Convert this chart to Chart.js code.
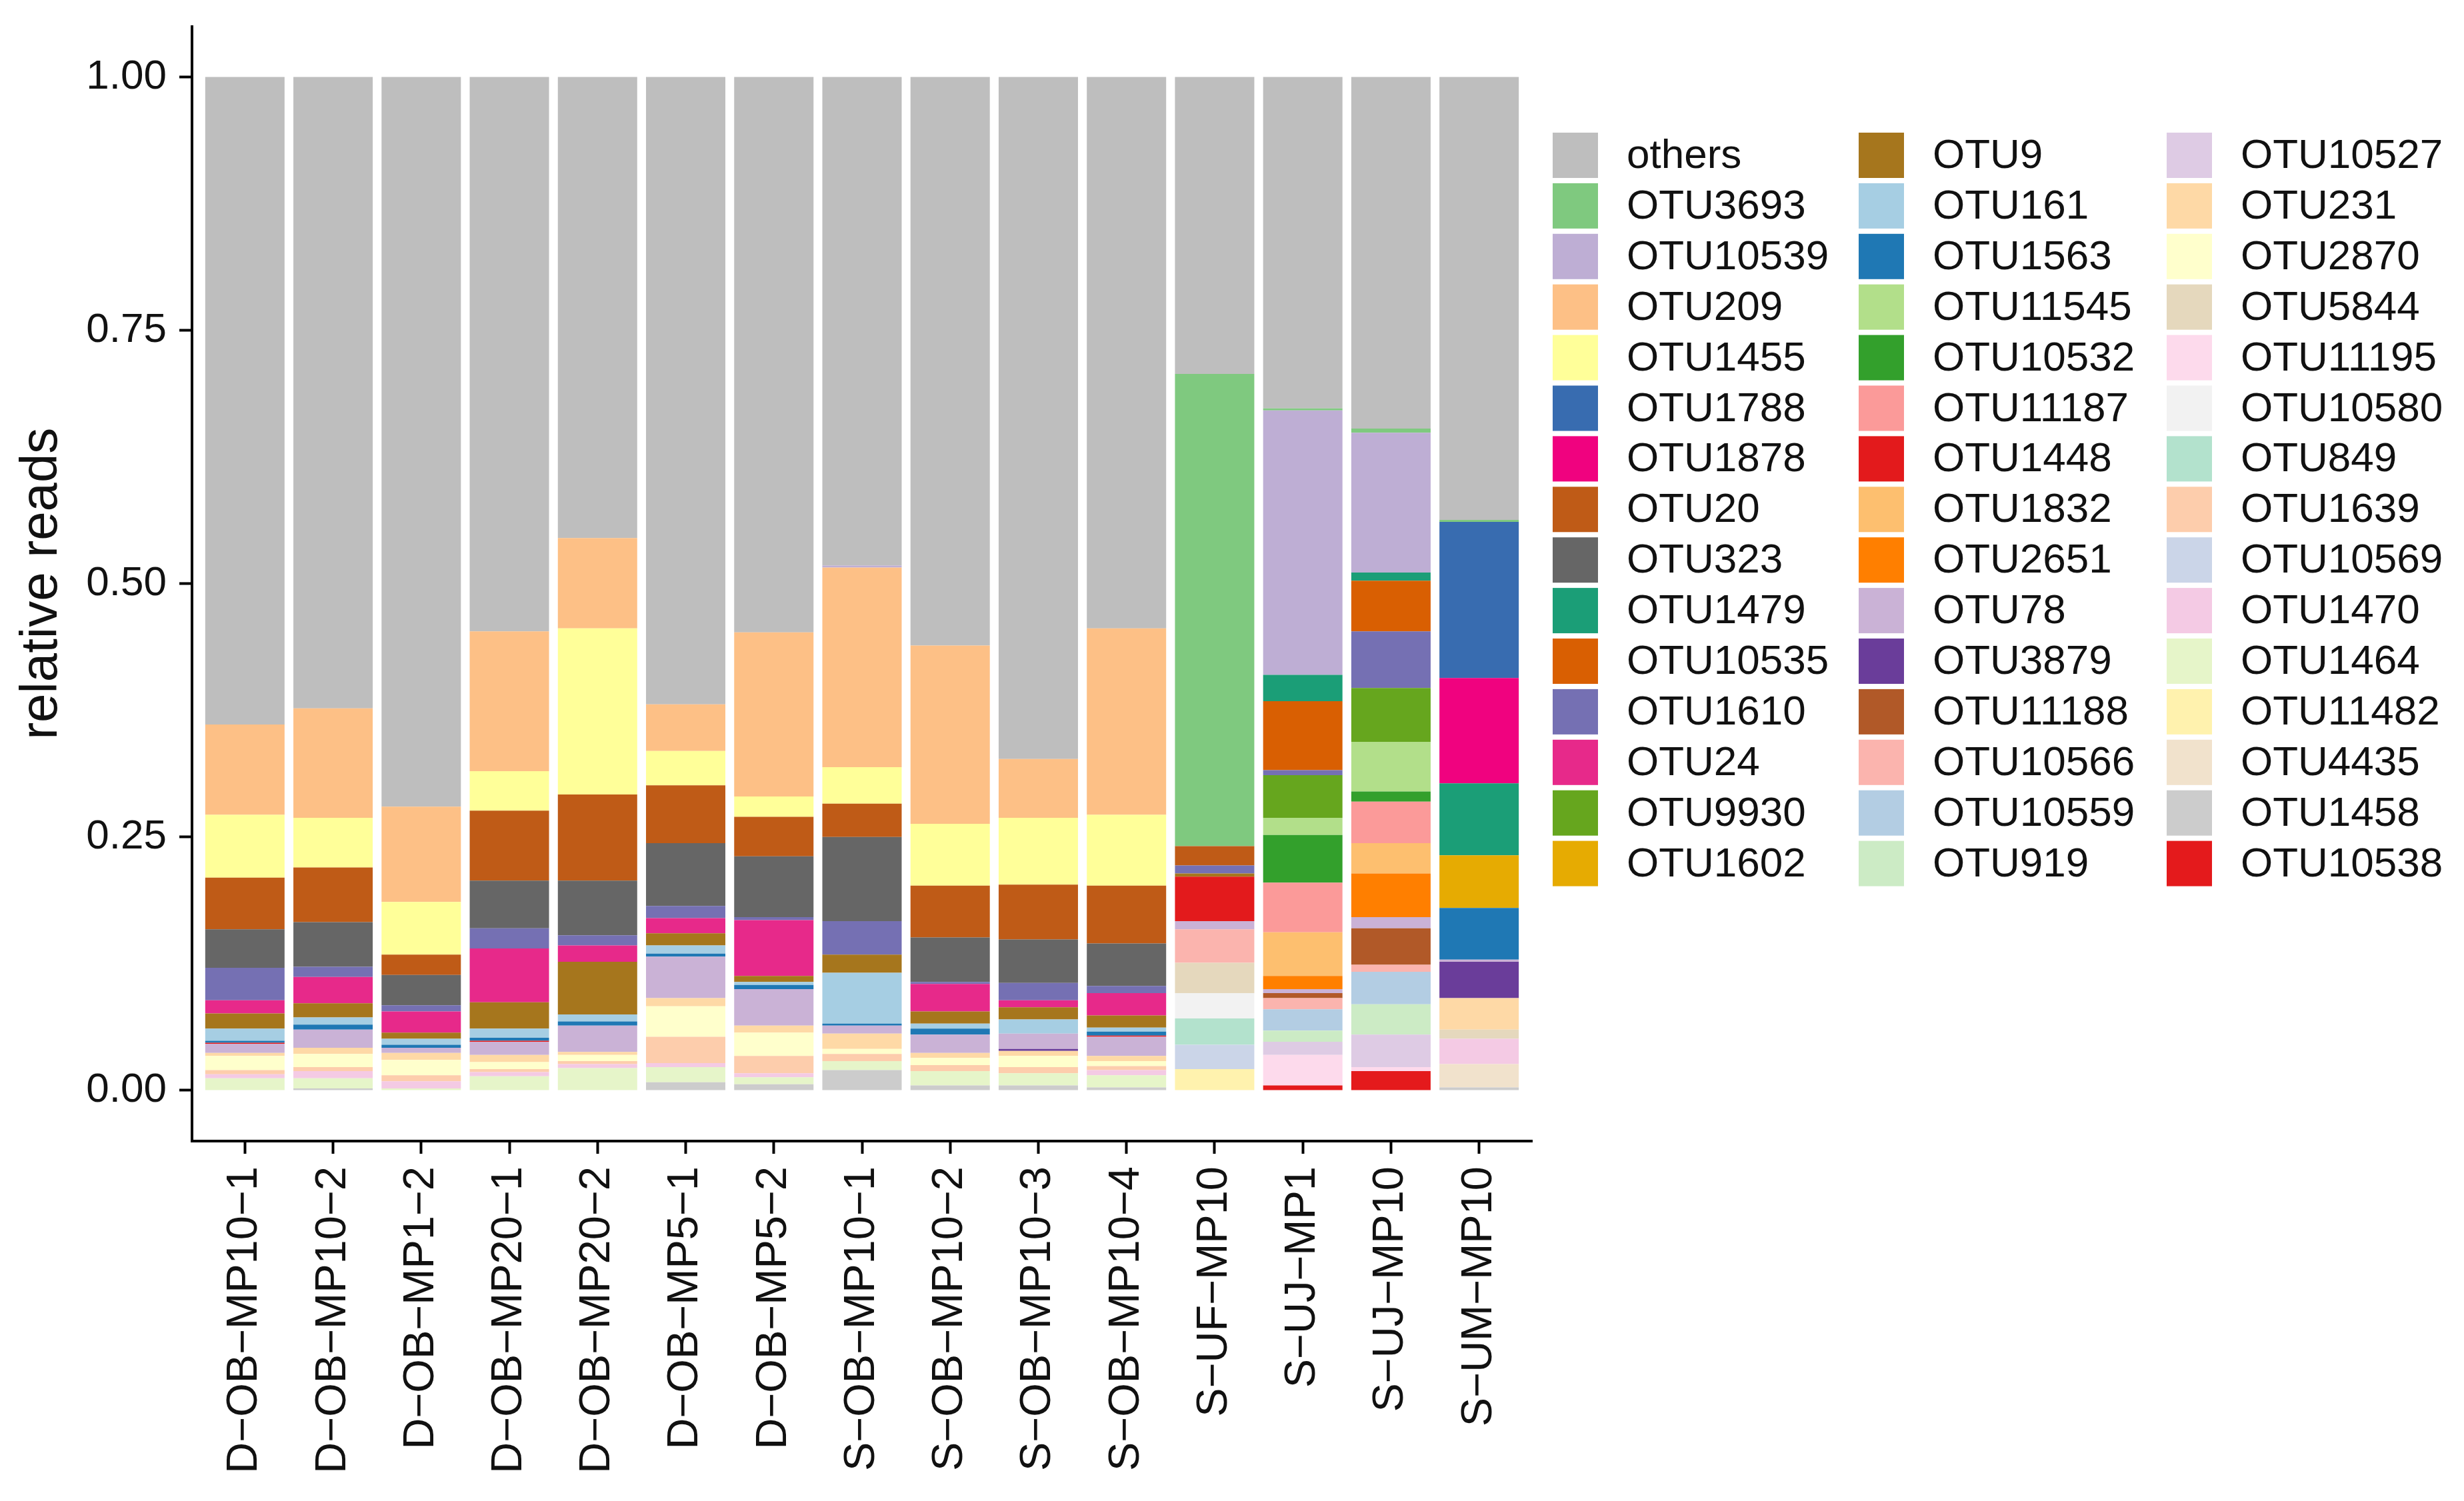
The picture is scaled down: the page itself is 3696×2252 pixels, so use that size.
<!DOCTYPE html>
<html lang="en">
<head>
    <meta charset="UTF-8">
    <title>relative reads</title>
    <script src="https://cdn.jsdelivr.net/npm/chart.js"></script>
    <style>
        html, body { margin: 0; padding: 0; background: #fff; }
        .wrap { width: 3696px; height: 2252px; position: relative; }
    </style>
</head>
<body>
    <div class="wrap">
        <canvas id="otuChart"></canvas>
    </div>

    <script>
        const samples = ['D−OB−MP10−1', 'D−OB−MP10−2', 'D−OB−MP1−2', 'D−OB−MP20−1', 'D−OB−MP20−2',
            'D−OB−MP5−1', 'D−OB−MP5−2', 'S−OB−MP10−1', 'S−OB−MP10−2', 'S−OB−MP10−3',
            'S−OB−MP10−4', 'S−UF−MP10', 'S−UJ−MP1', 'S−UJ−MP10', 'S−UM−MP10'];

        const yTicks = [0, 0.25, 0.5, 0.75, 1];

        // relative reads per OTU, one value per sample (same order as samples)
        const others   = [.639, .623, .720, .547, .455, .619, .548, .482, .561, .673, .544, .293, .327, .347, .437];
        const otu3693  = [0, 0, 0, 0, 0, 0, 0, 0, 0, 0, 0, .466, .002, .004, .002];
        const otu10539 = [0, 0, 0, 0, 0, 0, 0, .002, 0, 0, 0, 0, .261, .138, 0];
        const otu209   = [.089, .108, .094, .138, .089, .046, .162, .197, .176, .058, .184, 0, 0, 0, 0];
        const otu1455  = [.062, .049, .052, .039, .164, .034, .020, .036, .061, .066, .070, 0, 0, 0, 0];
        const otu1788  = [0, 0, 0, 0, 0, 0, 0, 0, 0, 0, 0, 0, 0, 0, .154];
        const otu1878  = [0, 0, 0, 0, 0, 0, 0, 0, 0, 0, 0, 0, 0, 0, .104];
        const otu20    = [.051, .054, .020, .069, .085, .057, .039, .033, .051, .054, .057, .019, 0, 0, 0];
        const otu323   = [.038, .044, .030, .047, .054, .062, .060, .083, .044, .043, .042, 0, 0, 0, 0];
        const otu1479  = [0, 0, 0, 0, 0, 0, 0, 0, 0, 0, 0, 0, .026, .008, .071];
        const otu10535 = [0, 0, 0, 0, 0, 0, 0, 0, 0, 0, 0, 0, .068, .050, 0];
        const otu1610  = [.032, .010, .006, .020, .010, .012, .003, .033, .002, .017, .007, .008, .005, .056, 0];
        const otu24    = [.013, .026, .021, .053, .016, .015, .055, 0, .027, .007, .022, 0, 0, 0, 0];
        const otu9930  = [0, 0, 0, 0, 0, 0, 0, 0, 0, 0, 0, 0, .042, .053, 0];
        const otu1602  = [0, 0, 0, 0, 0, 0, 0, 0, 0, 0, 0, 0, 0, 0, .052];
        const otu9     = [.015, .014, .006, .026, .052, .012, .006, .018, .012, .012, .012, .003, 0, 0, 0];
        const otu161   = [.012, .007, .006, .009, .007, .008, .003, .050, .005, .014, .004, 0, 0, 0, 0];
        const otu1563  = [.002, .005, .003, .003, .004, .003, .004, .002, .006, 0, .004, 0, 0, 0, .051];
        const otu11545 = [0, 0, 0, 0, 0, 0, 0, 0, 0, 0, 0, 0, .017, .049, 0];
        const otu10532 = [0, 0, 0, 0, 0, 0, 0, 0, 0, 0, 0, 0, .047, .010, 0];
        const otu11187 = [0, 0, 0, 0, 0, 0, 0, 0, 0, 0, 0, 0, .049, .041, 0];
        const otu1448  = [.001, 0, 0, .001, 0, 0, 0, 0, 0, 0, .001, .044, 0, 0, 0];
        const otu1832  = [0, 0, 0, 0, 0, 0, 0, 0, 0, 0, 0, 0, .043, .030, 0];
        const otu2651  = [0, 0, 0, 0, 0, 0, 0, 0, 0, 0, 0, 0, .013, .043, 0];
        const otu78    = [.009, .018, .005, .013, .026, .041, .036, .008, .018, .015, .019, .008, .004, .011, .002];
        const otu3879  = [0, 0, 0, 0, 0, 0, 0, 0, 0, .002, 0, 0, 0, 0, .036];
        const otu11188 = [0, 0, 0, 0, 0, 0, 0, 0, 0, 0, 0, 0, .005, .036, 0];
        const otu10566 = [0, 0, 0, 0, 0, 0, 0, 0, 0, 0, 0, .033, .011, .007, 0];
        const otu10559 = [0, 0, 0, 0, 0, 0, 0, 0, 0, 0, 0, 0, .021, .032, 0];
        const otu919   = [0, 0, 0, 0, 0, 0, 0, 0, 0, 0, 0, 0, .011, .030, 0];
        const otu10527 = [0, 0, 0, 0, 0, 0, 0, 0, 0, 0, 0, 0, .013, .032, 0];
        const otu231   = [.003, .006, .007, .007, .003, .008, .007, .015, .005, .005, .005, 0, 0, 0, .031];
        const otu2870  = [.014, .013, .015, .007, .006, .030, .023, .005, .007, .011, .005, 0, 0, 0, 0];
        const otu5844  = [0, 0, 0, 0, 0, 0, 0, 0, 0, 0, 0, .030, 0, 0, .009];
        const otu11195 = [0, 0, 0, 0, 0, 0, 0, 0, 0, 0, 0, 0, .030, .004, 0];
        const otu10580 = [0, 0, 0, 0, 0, 0, 0, 0, 0, 0, 0, .025, 0, 0, 0];
        const otu849   = [0, 0, 0, 0, 0, 0, 0, 0, 0, 0, 0, .026, 0, 0, 0];
        const otu1639  = [.004, .004, .006, .003, .003, .026, .017, .007, .006, .006, .004, 0, 0, 0, 0];
        const otu10569 = [0, 0, 0, 0, 0, 0, 0, 0, 0, 0, 0, .024, 0, 0, 0];
        const otu1470  = [.004, .007, .007, .004, .004, .004, .004, 0, 0, 0, .005, 0, 0, 0, .025];
        const otu1464  = [.012, .010, .002, .014, .022, .015, .007, .009, .014, .012, .012, 0, 0, 0, 0];
        const otu11482 = [0, 0, 0, 0, 0, 0, 0, 0, 0, 0, 0, .021, 0, 0, 0];
        const otu4435  = [0, 0, 0, 0, 0, 0, 0, 0, 0, 0, 0, 0, 0, 0, .023];
        const otu1458  = [0, .002, 0, 0, 0, .008, .006, .020, .005, .005, .003, 0, 0, 0, .003];
        const otu10538 = [0, 0, 0, 0, 0, 0, 0, 0, 0, 0, 0, 0, .005, .019, 0];

        // legend order (top of the stack first)
        const seriesNames = ['others', 'OTU3693', 'OTU10539', 'OTU209', 'OTU1455', 'OTU1788', 'OTU1878', 'OTU20',
            'OTU323', 'OTU1479', 'OTU10535', 'OTU1610', 'OTU24', 'OTU9930', 'OTU1602',
            'OTU9', 'OTU161', 'OTU1563', 'OTU11545', 'OTU10532', 'OTU11187', 'OTU1448', 'OTU1832',
            'OTU2651', 'OTU78', 'OTU3879', 'OTU11188', 'OTU10566', 'OTU10559', 'OTU919',
            'OTU10527', 'OTU231', 'OTU2870', 'OTU5844', 'OTU11195', 'OTU10580', 'OTU849', 'OTU1639',
            'OTU10569', 'OTU1470', 'OTU1464', 'OTU11482', 'OTU4435', 'OTU1458', 'OTU10538'];
        const seriesValues = [others, otu3693, otu10539, otu209, otu1455, otu1788, otu1878, otu20,
            otu323, otu1479, otu10535, otu1610, otu24, otu9930, otu1602,
            otu9, otu161, otu1563, otu11545, otu10532, otu11187, otu1448, otu1832,
            otu2651, otu78, otu3879, otu11188, otu10566, otu10559, otu919,
            otu10527, otu231, otu2870, otu5844, otu11195, otu10580, otu849, otu1639,
            otu10569, otu1470, otu1464, otu11482, otu4435, otu1458, otu10538];
        const seriesColors = ['#BEBEBE', '#7FC97F', '#BEAED4', '#FDC086', '#FFFF99', '#386CB0', '#F0027F', '#BF5B17',
            '#666666', '#1B9E77', '#D95F02', '#7570B3', '#E7298A', '#66A61E', '#E6AB02',
            '#A6761D', '#A6CEE3', '#1F78B4', '#B2DF8A', '#33A02C', '#FB9A99', '#E31A1C', '#FDBF6F',
            '#FF7F00', '#CAB2D6', '#6A3D9A', '#B15928', '#FBB4AE', '#B3CDE3', '#CCEBC5',
            '#DECBE4', '#FED9A6', '#FFFFCC', '#E5D8BD', '#FDDAEC', '#F2F2F2', '#B3E2CD', '#FDCDAC',
            '#CBD5E8', '#F4CAE4', '#E6F5C9', '#FFF2AE', '#F1E2CC', '#CCCCCC', '#E41A1C'];

        const FONT = "'Liberation Sans', Arial, sans-serif";

        // first dataset sits at the bottom of the stack, so go backwards
        const datasets = [];
        for (let k = seriesNames.length - 1; k >= 0; k--) {
            datasets.push({
                label: seriesNames[k],
                data: seriesValues[k].map((v, i) => ({ x: i, y: v })),
                backgroundColor: seriesColors[k],
                borderWidth: 0,
                barPercentage: 0.9,
                categoryPercentage: 1.0
            });
        }

        // ggplot-like legend: 3 columns of 15 keys
        const sideLegend = {
            id: 'sideLegend',
            afterDraw(chart) {
                const ctx = chart.ctx;
                const colX = [2329, 2788, 3250];
                const perCol = 15;
                const rowH = 75.9, firstY = 233, key = 68;
                ctx.save();
                ctx.font = '62px ' + FONT;
                ctx.textBaseline = 'middle';
                ctx.textAlign = 'left';
                seriesNames.forEach((name, i) => {
                    const c = Math.floor(i / perCol);
                    const r = i % perCol;
                    const cy = firstY + r * rowH;
                    ctx.fillStyle = seriesColors[i];
                    ctx.fillRect(colX[c], cy - key / 2, key, key);
                    ctx.fillStyle = '#111';
                    ctx.fillText(name, colX[c] + 111, cy + 2);
                });
                ctx.restore();
            }
        };

        const ctx = document.getElementById('otuChart').getContext('2d');
        const otuChart = new Chart(ctx, {
            type: 'bar',
            data: { datasets: datasets },
            options: {
                responsive: true,
                maintainAspectRatio: false,
                animation: false,
                layout: { padding: { top: 39.5, right: 1398, bottom: 0, left: 0 } },
                plugins: {
                    legend: { display: false },
                    tooltip: { enabled: false }
                },
                scales: {
                    x: {
                        type: 'linear',
                        stacked: true,
                        offset: false,
                        bounds: 'data',
                        min: -0.6,
                        max: samples.length - 0.4,
                        afterBuildTicks: (scale) => {
                            scale.ticks = samples.map((s, i) => ({ value: i }));
                        },
                        afterFit: (scale) => {
                            scale.height = 540;
                            scale.paddingLeft = 0;
                            scale.paddingRight = 0;
                        },
                        grid: {
                            offset: false,
                            drawOnChartArea: false,
                            drawTicks: true,
                            tickLength: 19,
                            tickWidth: 4,
                            tickColor: '#000'
                        },
                        border: { display: true, color: '#000', width: 4 },
                        ticks: {
                            autoSkip: false,
                            minRotation: 90,
                            maxRotation: 90,
                            padding: 19,
                            color: '#111',
                            font: { family: FONT, size: 65 },
                            callback: (value) => samples[value] ?? ''
                        }
                    },
                    y: {
                        stacked: true,
                        bounds: 'data',
                        min: -0.05,
                        max: 1.05,
                        afterBuildTicks: (scale) => {
                            scale.ticks = yTicks.map(v => ({ value: v }));
                        },
                        afterFit: (scale) => {
                            scale.width = 288;
                            scale.paddingTop = 0;
                            scale.paddingBottom = 0;
                        },
                        grid: {
                            drawOnChartArea: false,
                            drawTicks: true,
                            tickLength: 19,
                            tickWidth: 4,
                            tickColor: '#000'
                        },
                        border: { display: true, color: '#000', width: 4 },
                        ticks: {
                            padding: 19,
                            color: '#111',
                            font: { family: FONT, size: 62 },
                            callback: (value) => Number(value).toFixed(2)
                        },
                        title: {
                            display: true,
                            text: 'relative reads',
                            color: '#111',
                            font: { family: FONT, size: 78 },
                            padding: { top: 17, bottom: 0 }
                        }
                    }
                }
            },
            plugins: [sideLegend]
        });
    </script>
</body>
</html>
